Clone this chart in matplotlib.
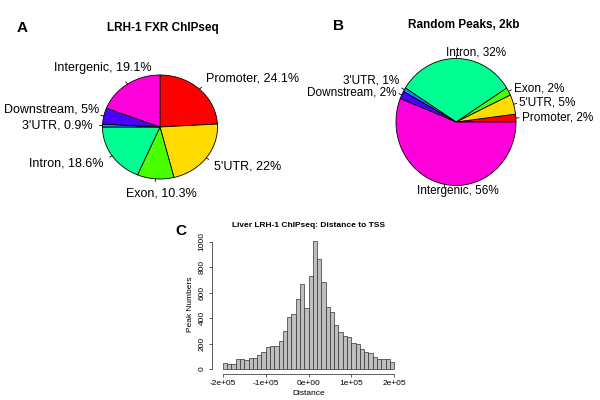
import numpy as np
import matplotlib
matplotlib.use("Agg")
import matplotlib.pyplot as plt

plt.rcParams['font.family'] = ['Liberation Sans', 'DejaVu Sans']

# pie data (R rainbow(7) colours)
regions = ["Promoter", "5'UTR", "Exon", "Intron", "3'UTR", "Downstream", "Intergenic"]
colors = ["#FF0000", "#FFDB00", "#49FF00", "#00FF92", "#0092FF", "#4900FF", "#FF00DB"]
lrh1_pct = [24.1, 22, 10.3, 18.6, 0.9, 5, 19.1]
random_pct = [2, 5, 2, 32, 1, 2, 56]

# histogram of distance to TSS, 40 bins of 10kb
bin_edges = np.arange(-200000, 200001, 10000)
peak_counts = [47, 40, 42, 80, 78, 70, 88, 88, 110, 130,
               170, 183, 183, 220, 298, 407, 430, 548, 665, 478,
               728, 1010, 862, 687, 490, 449, 345, 290, 258, 253,
               206, 198, 157, 136, 128, 97, 81, 78, 78, 55]
xtick_vals = [-200000, -100000, 0, 100000, 200000]
xtick_labels = ["-2e+05", "-1e+05", "0e+00", "1e+05", "2e+05"]
ytick_vals = [0, 200, 400, 600, 800, 1000]

W, H = 600, 400
fig = plt.figure(figsize=(6, 4), dpi=100)


def px_axes(left, top, width, height):
    return fig.add_axes([left / W, 1 - (top + height) / H, width / W, height / H])


def draw_pie(ax, values, labels, start, clockwise, kx=1.1, ky=1.1, nudge=None, fs=9):
    nudge = nudge or {}
    vals = np.array(values, dtype=float)
    ang = start
    sign = -1 if clockwise else 1
    for v, lab, c in zip(values, labels, colors):
        a2 = ang + sign * v / vals.sum() * 360
        t1, t2 = sorted([ang, a2])
        th = np.radians(np.linspace(t1, t2, 200))
        xs = np.concatenate([[0], np.cos(th), [0]])
        ys = np.concatenate([[0], np.sin(th), [0]])
        ax.fill(xs, ys, facecolor=c, edgecolor='black', lw=0.6)
        mid = np.radians((ang + a2) / 2)
        px, py = np.cos(mid), np.sin(mid)
        ax.plot([px, 1.05 * px], [py, 1.05 * py], color='black', lw=0.6)
        if abs(px) < 0.3:
            ha = 'center'
        else:
            ha = 'left' if px > 0 else 'right'
        dx, dy = nudge.get(lab, (0, 0))
        ax.text(kx * px + dx, ky * py + dy, "%s, %g%%" % (lab, v),
                ha=ha, va='center', fontsize=fs)
        ang = a2
    ax.axis('off')


# panel A
axA = px_axes(160 - 2.5 * 57.5, 127 - 1.8 * 52, 5 * 57.5, 3.6 * 52)
draw_pie(axA, lrh1_pct, regions, 90, True, kx=1.17, ky=1.28,
         nudge={"Intergenic": (0.52, 0.08), "Exon": (0.12, 0), "Downstream": (0.09, 0.06)})
axA.set_xlim(-2.5, 2.5)
axA.set_ylim(-1.8, 1.8)

# panel B
axB = px_axes(456 - 2.3 * 60, 122 - 1.7 * 63.5, 4.6 * 60, 3.4 * 63.5)
draw_pie(axB, random_pct, regions, 0, False, fs=8.5,
         nudge={"Intron": (0.33, 0), "3'UTR": (0, 0.1), "Intergenic": (0.24, 0)})
axB.set_xlim(-2.3, 2.3)
axB.set_ylim(-1.7, 1.7)

fig.text(22 / W, 1 - 28 / H, "A", fontsize=11, fontweight='bold', va='center', ha='center')
fig.text(163 / W, 1 - 28 / H, "LRH-1 FXR ChIPseq", fontsize=8.5, fontweight='bold', va='center', ha='center')
fig.text(338 / W, 1 - 26 / H, "B", fontsize=11, fontweight='bold', va='center', ha='center')
fig.text(464 / W, 1 - 25 / H, "Random Peaks, 2kb", fontsize=8.5, fontweight='bold', va='center', ha='center')
fig.text(181 / W, 1 - 231 / H, "C", fontsize=11, fontweight='bold', va='center', ha='center')

# panel C histogram
axC = px_axes(216, 235.6, 185, 138.4)
axC.bar(bin_edges[:-1], peak_counts, width=np.diff(bin_edges), align='edge',
        facecolor='#BEBEBE', edgecolor='#333333', lw=0.5)
axC.set_xlim(-216000, 216000)
axC.set_ylim(-40, 1050)
for s in ['top', 'right']:
    axC.spines[s].set_visible(False)
axC.spines['bottom'].set_bounds(-200000, 200000)
axC.spines['left'].set_bounds(0, 1000)
for s in ['bottom', 'left']:
    axC.spines[s].set_linewidth(0.6)
    axC.spines[s].set_color('#444444')
axC.spines['left'].set_position(('outward', 3))
axC.set_xticks(xtick_vals)
axC.set_xticklabels(xtick_labels)
axC.set_yticks(ytick_vals)
axC.set_yticklabels([str(v) for v in ytick_vals], rotation=90, va='center')
axC.tick_params(labelsize=6, length=2.5, width=0.6, pad=2, color='#444444')
axC.set_xlabel("Distance", fontsize=6, labelpad=2)
axC.set_ylabel("Peak Numbers", fontsize=6, labelpad=3)
axC.set_title("Liver LRH-1 ChIPseq: Distance to TSS", fontsize=6, fontweight='bold', pad=6)

fig.savefig("out.png", dpi=100)
